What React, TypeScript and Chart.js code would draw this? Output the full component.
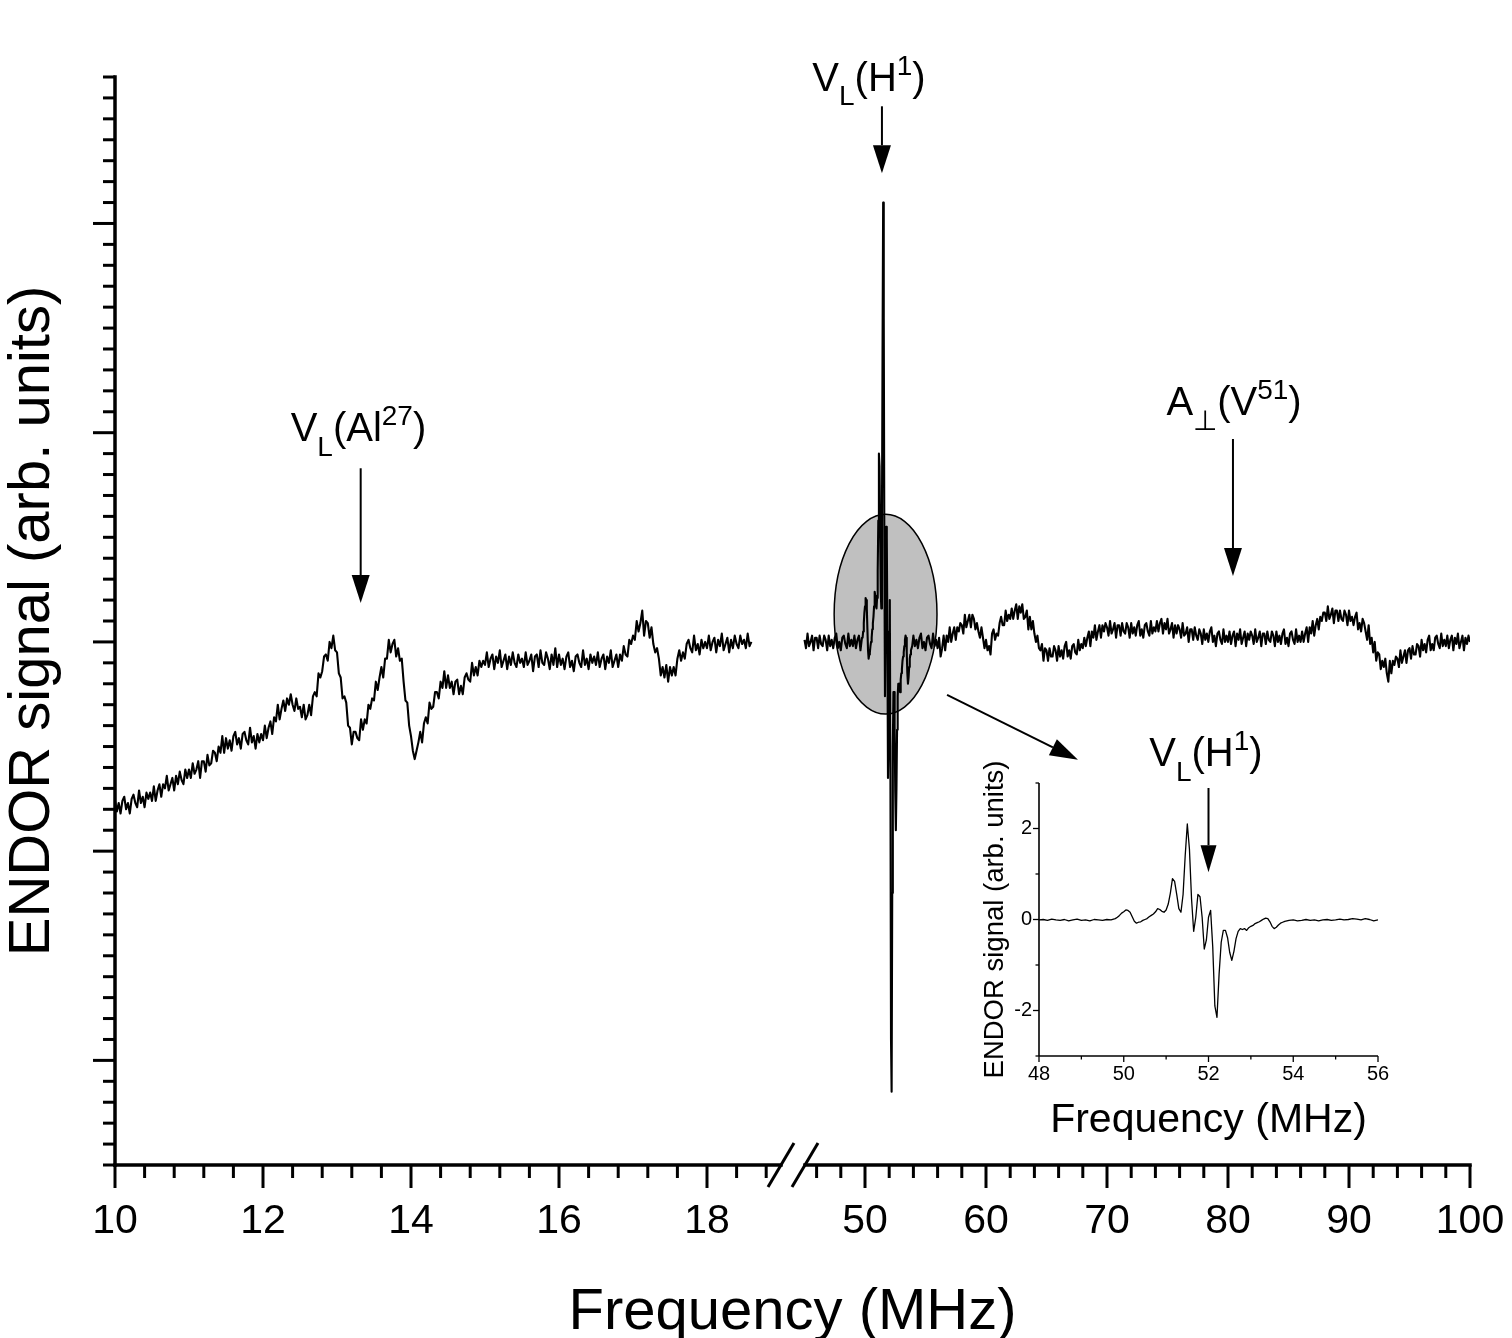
import React, { useEffect, useRef } from "react";
import { Chart, registerables } from "chart.js";

Chart.register(...registerables);

const FONT = "'Liberation Sans', Arial, Helvetica, sans-serif";

// ---------------- DATA ----------------
// Main spectrum, left segment: 10.000 – 18.600 MHz, sampled every 0.025 MHz
const leftStartMHz = 10;
const leftStepMHz = 0.025;
const leftSignal = [
  -0.76, -0.81, -0.77, -0.82, -0.76, -0.74, -0.80, -0.77, -0.82, -0.75, -0.73, -0.77, -0.79, -0.71, -0.77, -0.74, -0.79, -0.72, -0.75, -0.72,
  -0.76, -0.69, -0.76, -0.71, -0.68, -0.74, -0.68, -0.70, -0.64, -0.71, -0.68, -0.65, -0.71, -0.64, -0.68, -0.62, -0.66, -0.68, -0.61, -0.65,
  -0.61, -0.65, -0.58, -0.63, -0.61, -0.57, -0.65, -0.57, -0.57, -0.62, -0.54, -0.59, -0.58, -0.52, -0.53, -0.57, -0.50, -0.53, -0.45, -0.53,
  -0.46, -0.51, -0.47, -0.52, -0.45, -0.43, -0.49, -0.46, -0.51, -0.44, -0.43, -0.47, -0.49, -0.41, -0.48, -0.45, -0.51, -0.44, -0.48, -0.44,
  -0.47, -0.40, -0.46, -0.41, -0.38, -0.44, -0.36, -0.38, -0.30, -0.37, -0.32, -0.28, -0.33, -0.27, -0.30, -0.25, -0.30, -0.33, -0.27, -0.32,
  -0.31, -0.36, -0.30, -0.37, -0.35, -0.30, -0.35, -0.26, -0.24, -0.26, -0.15, -0.17, -0.14, -0.07, -0.06, -0.09, 0.00, -0.03, 0.03, -0.04,
  -0.05, -0.15, -0.17, -0.27, -0.26, -0.29, -0.40, -0.41, -0.49, -0.43, -0.43, -0.46, -0.47, -0.37, -0.42, -0.37, -0.39, -0.30, -0.32, -0.27,
  -0.28, -0.19, -0.23, -0.17, -0.12, -0.17, -0.08, -0.08, 0.01, -0.05, -0.01, 0.01, -0.07, -0.03, -0.09, -0.08, -0.19, -0.28, -0.29, -0.40,
  -0.45, -0.52, -0.56, -0.52, -0.48, -0.43, -0.48, -0.39, -0.36, -0.39, -0.29, -0.32, -0.31, -0.24, -0.24, -0.27, -0.19, -0.22, -0.14, -0.22,
  -0.16, -0.22, -0.19, -0.25, -0.19, -0.18, -0.25, -0.21, -0.25, -0.17, -0.15, -0.18, -0.19, -0.10, -0.16, -0.12, -0.16, -0.09, -0.12, -0.09,
  -0.11, -0.05, -0.12, -0.08, -0.06, -0.13, -0.07, -0.10, -0.04, -0.12, -0.09, -0.06, -0.13, -0.07, -0.11, -0.05, -0.10, -0.12, -0.06, -0.10,
  -0.08, -0.12, -0.05, -0.11, -0.09, -0.06, -0.14, -0.07, -0.06, -0.12, -0.04, -0.10, -0.11, -0.05, -0.08, -0.13, -0.06, -0.11, -0.03, -0.12,
  -0.06, -0.11, -0.08, -0.13, -0.07, -0.05, -0.12, -0.09, -0.14, -0.07, -0.06, -0.10, -0.12, -0.04, -0.11, -0.08, -0.13, -0.06, -0.10, -0.07,
  -0.11, -0.05, -0.12, -0.08, -0.06, -0.13, -0.07, -0.10, -0.04, -0.12, -0.09, -0.06, -0.12, -0.06, -0.09, -0.02, -0.06, -0.07, 0.01, -0.01,
  0.03, 0.01, 0.10, 0.05, 0.09, 0.15, 0.03, 0.10, 0.09, 0.02, 0.07, -0.01, -0.05, -0.03, -0.08, -0.16, -0.12, -0.17, -0.11, -0.19,
  -0.12, -0.16, -0.12, -0.16, -0.08, -0.04, -0.09, -0.05, -0.08, -0.01, 0.01, -0.03, -0.05, 0.03, -0.04, -0.01, -0.06, 0.01, -0.03, 0.00,
  -0.03, 0.03, -0.04, 0.00, 0.02, -0.05, 0.01, -0.02, 0.04, -0.04, -0.01, 0.02, -0.05, 0.01, -0.03, 0.03, -0.01, -0.03, 0.03, -0.01,
  0.01, -0.03, 0.04, -0.02, 0.00,
];

// Main spectrum, right segment, part A: 45.000 – 49.750 MHz every 0.125 MHz
const rightAStartMHz = 45;
const rightStepMHz = 0.125;
const rightASignal = [
  0.01, -0.03, 0.04, -0.02, 0.00, 0.03, -0.04, 0.02, 0.02, -0.03, 0.03, -0.01, -0.02, 0.03, 0.01, -0.04,
  0.03, -0.02, 0.01, -0.03, 0.02, 0.04, -0.03, 0.00, -0.04, 0.02, 0.03, -0.01, -0.03, 0.04, -0.02, 0.01,
  -0.02, 0.03, -0.03, 0.01, 0.03, -0.04, 0.02,
];

// Main spectrum, right segment, part B: 54.000 – 100.000 MHz every 0.125 MHz
const rightBStartMHz = 54;
const rightBSignal = [
  0.03, -0.02, 0.01, -0.03, 0.02, 0.04, -0.03, 0.00, -0.04, 0.02, 0.03, -0.01, -0.03, 0.04, -0.02, 0.01,
  -0.03, 0.02, -0.07, -0.03, 0.03, -0.04, 0.03, 0.00, 0.07, 0.00, 0.04, 0.07, 0.01, 0.07, 0.05, 0.09,
  0.08, 0.04, 0.13, 0.07, 0.10, 0.13, 0.07, 0.13, 0.11, 0.06, 0.09, 0.05, 0.02, 0.07, 0.02, -0.03,
  0.01, -0.04, -0.02, -0.06, 0.04, 0.06, 0.01, 0.04, 0.03, 0.09, 0.12, 0.08, 0.08, 0.15, 0.10, 0.13,
  0.11, 0.16, 0.11, 0.15, 0.18, 0.11, 0.17, 0.14, 0.18, 0.11, 0.12, 0.15, 0.06, 0.12, 0.06, 0.10,
  0.04, 0.00, 0.03, -0.03, -0.04, -0.01, -0.09, -0.03, -0.04, -0.09, -0.03, -0.07, -0.07, -0.02, -0.04, -0.09,
  -0.02, -0.07, -0.04, -0.08, -0.02, 0.00, -0.07, -0.04, -0.08, -0.02, -0.01, -0.05, -0.06, 0.01, -0.04, -0.01,
  -0.03, 0.02, -0.02, 0.02, 0.05, -0.02, 0.05, 0.02, 0.08, 0.01, 0.05, 0.08, 0.02, 0.08, 0.05, 0.09,
  0.07, 0.03, 0.10, 0.04, 0.06, 0.09, 0.02, 0.08, 0.08, 0.03, 0.09, 0.05, 0.04, 0.09, 0.07, 0.02,
  0.09, 0.04, 0.07, 0.03, 0.08, 0.10, 0.03, 0.06, 0.02, 0.08, 0.09, 0.05, 0.03, 0.10, 0.04, 0.07,
  0.05, 0.10, 0.05, 0.09, 0.11, 0.04, 0.09, 0.06, 0.11, 0.04, 0.06, 0.09, 0.02, 0.08, 0.04, 0.08,
  0.06, 0.02, 0.09, 0.03, 0.04, 0.07, 0.00, 0.06, 0.06, 0.01, 0.07, 0.03, 0.01, 0.06, 0.04, -0.01,
  0.06, 0.01, 0.04, 0.00, 0.05, 0.07, 0.00, 0.03, -0.02, 0.04, 0.05, 0.01, -0.01, 0.06, 0.00, 0.03,
  0.00, 0.05, -0.01, 0.03, 0.05, -0.02, 0.04, 0.01, 0.06, -0.01, 0.02, 0.05, -0.02, 0.04, 0.01, 0.05,
  0.03, -0.01, 0.06, 0.00, 0.02, 0.05, -0.02, 0.04, 0.04, -0.01, 0.05, 0.01, 0.00, 0.05, 0.03, -0.02,
  0.05, 0.00, 0.03, -0.01, 0.04, 0.06, -0.01, 0.02, -0.02, 0.04, 0.05, 0.01, -0.01, 0.06, 0.00, 0.03,
  0.00, 0.05, 0.00, 0.04, 0.07, 0.00, 0.07, 0.04, 0.10, 0.03, 0.08, 0.11, 0.06, 0.12, 0.10, 0.14,
  0.14, 0.10, 0.17, 0.11, 0.13, 0.16, 0.09, 0.15, 0.15, 0.10, 0.15, 0.11, 0.10, 0.15, 0.13, 0.08,
  0.15, 0.10, 0.12, 0.08, 0.12, 0.14, 0.06, 0.09, 0.05, 0.11, 0.09, 0.05, 0.01, 0.08, -0.01, 0.02,
  -0.05, 0.00, -0.09, -0.05, -0.06, -0.13, -0.09, -0.12, -0.08, -0.15, -0.19, -0.09, -0.15, -0.09, -0.11, -0.07,
  -0.08, -0.12, -0.04, -0.10, -0.07, -0.04, -0.10, -0.04, -0.03, -0.08, -0.02, -0.06, -0.06, -0.01, -0.02, -0.07,
  0.01, -0.04, -0.01, -0.05, 0.01, 0.03, -0.04, -0.01, -0.04, 0.02, 0.03, -0.01, -0.03, 0.04, -0.02, 0.01,
  -0.02, 0.03, -0.03, 0.01, 0.03, -0.04, 0.02, -0.01, 0.04, -0.03, 0.00, 0.03, -0.04, 0.02, -0.01, 0.03,
  0.00,
];

// V_L(H1) region (48 – 56 MHz): shown in the inset and inside the main trace
const h1Freq = [
  48.0, 48.1, 48.2, 48.3, 48.4, 48.5, 48.6, 48.7, 48.8, 48.9,
  49.0, 49.1, 49.2, 49.3, 49.4, 49.5, 49.6, 49.7, 49.8, 49.85,
  49.9, 49.95, 50.0, 50.05, 50.1, 50.15, 50.2, 50.25, 50.3, 50.35,
  50.4, 50.45, 50.5, 50.55, 50.6, 50.65, 50.7, 50.75, 50.8, 50.85,
  50.9, 50.95, 51.0, 51.05, 51.1, 51.15, 51.2, 51.25, 51.3, 51.35,
  51.4, 51.45, 51.5, 51.55, 51.6, 51.65, 51.7, 51.75, 51.8, 51.85,
  51.9, 51.95, 52.0, 52.05, 52.1, 52.15, 52.2, 52.25, 52.3, 52.35,
  52.4, 52.45, 52.5, 52.55, 52.6, 52.65, 52.7, 52.75, 52.8, 52.85,
  52.9, 52.95, 53.0, 53.05, 53.1, 53.15, 53.2, 53.25, 53.3, 53.35,
  53.4, 53.45, 53.5, 53.55, 53.6, 53.65, 53.7, 53.75, 53.8, 53.9,
  54.0, 54.1, 54.2, 54.3, 54.4, 54.5, 54.6, 54.7, 54.8, 54.9,
  55.0, 55.1, 55.2, 55.3, 55.4, 55.5, 55.6, 55.7, 55.8, 55.9,
  56.0,
];
const h1Signal = [
  -0.01, 0.00, -0.02, 0.01, -0.01, -0.02, 0.00, -0.03, -0.01, 0.01,
  -0.02, -0.01, -0.03, 0.00, -0.01, -0.02, 0.00, -0.01, 0.02, 0.05,
  0.09, 0.14, 0.17, 0.21, 0.20, 0.16, 0.06, -0.04, -0.08, -0.06,
  -0.05, -0.02, 0.00, 0.02, 0.06, 0.09, 0.12, 0.17, 0.24, 0.22,
  0.18, 0.16, 0.21, 0.34, 0.58, 0.90, 0.84, 0.55, 0.24, 0.16,
  0.55, 1.40, 2.10, 1.55, 0.45, -0.26, 0.05, 0.55, 0.50, 0.05,
  -0.65, -0.45, 0.05, 0.20, -0.60, -1.90, -2.15, -1.20, -0.50, -0.24,
  -0.24, -0.40, -0.72, -0.90, -0.70, -0.42, -0.26, -0.20, -0.22, -0.20,
  -0.24, -0.18, -0.15, -0.13, -0.09, -0.07, -0.05, -0.02, 0.01, 0.03,
  0.02, -0.05, -0.15, -0.20, -0.17, -0.12, -0.08, -0.06, -0.04, -0.02,
  -0.01, -0.03, -0.02, 0.00, -0.02, -0.01, -0.03, -0.01, 0.00, -0.02,
  -0.01, 0.01, -0.01, 0.00, 0.02, 0.01, -0.01, 0.02, 0.00, -0.03,
  -0.01,
];

// Axis tick labels
const leftTickLabels = [10, 12, 14, 16, 18];
const rightTickLabels = [50, 60, 70, 80, 90, 100];
const insetXTickLabels = [48, 50, 52, 54, 56];
const insetYTickLabels = [-2, 0, 2];

// ---------------- BROKEN AXIS MAPPING ----------------
const LEFT_PER_MHZ = 74;
const RIGHT_ORIGIN = 750;
const RIGHT_PER_MHZ = 12.1;
const toV = (f: number) =>
  f < 30 ? (f - 10) * LEFT_PER_MHZ : RIGHT_ORIGIN + (f - 50) * RIGHT_PER_MHZ;
const fromV = (v: number) =>
  v < 678 ? 10 + v / LEFT_PER_MHZ : 50 + (v - RIGHT_ORIGIN) / RIGHT_PER_MHZ;

type Part = [string, "n" | "sub" | "sup"];

function richText(ctx: CanvasRenderingContext2D, parts: Part[], cx: number, base: number, size: number) {
  const fontFor = (k: string) => `${k === "n" ? size : Math.round(size * 0.7)}px ${FONT}`;
  let w = 0;
  for (const [t, k] of parts) {
    ctx.font = fontFor(k);
    w += ctx.measureText(t).width;
  }
  let x = cx - w / 2;
  ctx.save();
  ctx.textAlign = "left";
  ctx.textBaseline = "alphabetic";
  ctx.fillStyle = "#000";
  for (const [t, k] of parts) {
    ctx.font = fontFor(k);
    const dy = k === "sub" ? size * 0.37 : k === "sup" ? -size * 0.4 : 0;
    ctx.fillText(t, x, base + dy);
    x += ctx.measureText(t).width;
  }
  ctx.restore();
}

function arrow(ctx: CanvasRenderingContext2D, x1: number, y1: number, x2: number, y2: number, headLen: number, headHalf: number, lw: number) {
  const a = Math.atan2(y2 - y1, x2 - x1);
  const bx = x2 - headLen * Math.cos(a);
  const by = y2 - headLen * Math.sin(a);
  ctx.save();
  ctx.strokeStyle = "#000";
  ctx.fillStyle = "#000";
  ctx.lineWidth = lw;
  ctx.beginPath();
  ctx.moveTo(x1, y1);
  ctx.lineTo(bx, by);
  ctx.stroke();
  ctx.beginPath();
  ctx.moveTo(x2, y2);
  ctx.lineTo(bx + headHalf * Math.sin(a), by - headHalf * Math.cos(a));
  ctx.lineTo(bx - headHalf * Math.sin(a), by + headHalf * Math.cos(a));
  ctx.closePath();
  ctx.fill();
  ctx.restore();
}

function line(ctx: CanvasRenderingContext2D, x1: number, y1: number, x2: number, y2: number) {
  ctx.beginPath();
  ctx.moveTo(x1, y1);
  ctx.lineTo(x2, y2);
  ctx.stroke();
}

const mainDecor = {
  id: "mainDecor",
  beforeDatasetsDraw(chart: any) {
    const { ctx } = chart;
    const xs = chart.scales.x;
    const ys = chart.scales.y;
    const x1 = xs.getPixelForValue(toV(47.45));
    const x2 = xs.getPixelForValue(toV(55.95));
    const y1 = ys.getPixelForValue(0.61);
    const y2 = ys.getPixelForValue(-0.345);
    ctx.save();
    ctx.beginPath();
    ctx.ellipse((x1 + x2) / 2, (y1 + y2) / 2, (x2 - x1) / 2, (y2 - y1) / 2, 0, 0, Math.PI * 2);
    ctx.fillStyle = "#c0c0c0";
    ctx.fill();
    ctx.lineWidth = 1.5;
    ctx.strokeStyle = "#000";
    ctx.stroke();
    ctx.restore();
  },
  afterDraw(chart: any) {
    const { ctx, chartArea } = chart;
    const xs = chart.scales.x;
    const ys = chart.scales.y;
    const { left, right, top, bottom } = chartArea;
    ctx.save();
    ctx.strokeStyle = "#000";
    ctx.lineCap = "butt";
    ctx.lineWidth = 3;
    for (let k = -25; k <= 27; k++) {
      const y = ys.getPixelForValue(k / 10);
      const len = k % 10 === 0 ? 22 : 12;
      line(ctx, left - len, y, left, y);
    }
    for (let k = 0; k <= 22; k++) {
      const x = xs.getPixelForValue(toV(10 + 0.4 * k));
      const len = k % 5 === 0 ? 23 : 13;
      line(ctx, x, bottom, x, bottom + len);
    }
    for (let f = 46; f <= 100; f += 2) {
      const x = xs.getPixelForValue(toV(f));
      const len = f % 10 === 0 ? 23 : 13;
      line(ctx, x, bottom, x, bottom + len);
    }
    ctx.lineWidth = 3.5;
    ctx.lineCap = "square";
    line(ctx, left, top, left, bottom);
    const b1 = xs.getPixelForValue(toV(19.0));
    const b2 = xs.getPixelForValue(toV(45.04));
    line(ctx, left, bottom, b1, bottom);
    line(ctx, b2, bottom, right, bottom);
    ctx.lineCap = "butt";
    ctx.lineWidth = 3;
    line(ctx, b1 - 13, bottom + 22, b1 + 13, bottom - 22);
    line(ctx, b2 - 13, bottom + 22, b2 + 13, bottom - 22);
    ctx.restore();

    const P = (f: number, v: number) => [xs.getPixelForValue(toV(f)), ys.getPixelForValue(v)];
    let a = P(13.32, 0.83), b = P(13.32, 0.186);
    arrow(ctx, a[0], a[1], b[0], b[1], 28, 9, 2);
    a = P(51.4, 2.56); b = P(51.4, 2.24);
    arrow(ctx, a[0], a[1], b[0], b[1], 28, 9, 2);
    a = P(80.41, 0.97); b = P(80.41, 0.315);
    arrow(ctx, a[0], a[1], b[0], b[1], 28, 9, 2);
    a = P(56.78, -0.253); b = P(67.6, -0.563);
    arrow(ctx, a[0], a[1], b[0], b[1], 28, 9, 2);

    let p = P(13.29, 0.96);
    richText(ctx, [["V", "n"], ["L", "sub"], ["(Al", "n"], ["27", "sup"], [")", "n"]], p[0], p[1], 40);
    p = P(50.33, 2.635);
    richText(ctx, [["V", "n"], ["L", "sub"], ["(H", "n"], ["1", "sup"], [")", "n"]], p[0], p[1], 40);
    p = P(80.5, 1.083);
    richText(ctx, [["A", "n"], ["\u22A5", "sub"], ["(V", "n"], ["51", "sup"], [")", "n"]], p[0], p[1], 40);
  },
};

const insetDecor = {
  id: "insetDecor",
  afterDraw(chart: any) {
    const { ctx, chartArea } = chart;
    const xs = chart.scales.x;
    const ys = chart.scales.y;
    const { left, right, top, bottom } = chartArea;
    ctx.save();
    ctx.strokeStyle = "#000";
    ctx.lineWidth = 1.3;
    for (let v = -3; v <= 3; v++) {
      const y = ys.getPixelForValue(v);
      const len = v % 2 === 0 ? 6 : 3.5;
      line(ctx, left - len, y, left, y);
    }
    for (let f = 48; f <= 56; f++) {
      const x = xs.getPixelForValue(f);
      const len = f % 2 === 0 ? 6 : 3.5;
      line(ctx, x, bottom, x, bottom + len);
    }
    ctx.lineWidth = 1.6;
    line(ctx, left, top, left, bottom);
    line(ctx, left, bottom, right, bottom);
    ctx.restore();
    const a = [xs.getPixelForValue(52.0), ys.getPixelForValue(2.89)];
    const b = [xs.getPixelForValue(52.0), ys.getPixelForValue(1.04)];
    arrow(ctx, a[0], a[1], b[0], b[1], 27, 8, 2);
    richText(
      ctx,
      [["V", "n"], ["L", "sub"], ["(H", "n"], ["1", "sup"], [")", "n"]],
      xs.getPixelForValue(51.94),
      ys.getPixelForValue(3.38),
      40
    );
  },
};

export default function App() {
  const mainRef = useRef<HTMLCanvasElement>(null);
  const insetRef = useRef<HTMLCanvasElement>(null);

  useEffect(() => {
    const leftPoints = leftSignal.map((y, i) => ({ x: toV(leftStartMHz + i * leftStepMHz), y }));
    const rightPoints = [
      ...rightASignal.map((y, i) => ({ x: toV(rightAStartMHz + i * rightStepMHz), y })),
      ...h1Freq
        .map((f, i) => ({ f, y: h1Signal[i] }))
        .filter((p) => p.f > 49.76 && p.f < 53.99)
        .map((p) => ({ x: toV(p.f), y: p.y })),
      ...rightBSignal.map((y, i) => ({ x: toV(rightBStartMHz + i * rightStepMHz), y })),
    ];
    const tickVs = [...leftTickLabels, ...rightTickLabels].map(toV);

    const lineStyle = {
      borderColor: "#000",
      borderWidth: 2.1,
      pointRadius: 0,
      tension: 0,
      fill: false,
      borderJoinStyle: "round" as const,
    };

    const main = new Chart(mainRef.current!, {
      type: "line",
      data: {
        datasets: [
          { label: "left", data: leftPoints, ...lineStyle },
          { label: "right", data: rightPoints, ...lineStyle },
        ],
      },
      options: {
        responsive: false,
        animation: false,
        devicePixelRatio: 1,
        layout: { padding: { left: 0, right: 42, top: 77, bottom: 0 } },
        plugins: { legend: { display: false }, tooltip: { enabled: false } },
        scales: {
          x: {
            type: "linear",
            min: 0,
            max: 1355,
            afterFit: (s: any) => {
              s.height = 173;
              s.paddingLeft = 0;
              s.paddingRight = 0;
            },
            afterBuildTicks: (s: any) => {
              s.ticks = tickVs.map((v) => ({ value: v }));
            },
            ticks: {
              callback: (v: any) => String(Math.round(fromV(Number(v)))),
              font: { family: FONT, size: 41 },
              color: "#000",
              padding: 32,
              autoSkip: false,
              maxRotation: 0,
              minRotation: 0,
            },
            grid: { display: false, drawTicks: false },
            border: { display: false },
            title: {
              display: true,
              text: "Frequency (MHz)",
              color: "#000",
              font: { family: FONT, size: 58, lineHeight: 1 },
              padding: { top: 0, bottom: -4 },
            },
          },
          y: {
            type: "linear",
            min: -2.5,
            max: 2.7,
            afterFit: (s: any) => {
              s.width = 115;
              s.paddingTop = 0;
              s.paddingBottom = 0;
            },
            ticks: { display: false },
            grid: { display: false, drawTicks: false },
            border: { display: false },
            title: {
              display: true,
              text: "ENDOR signal (arb. units)",
              color: "#000",
              font: { family: FONT, size: 58, lineHeight: 1 },
              padding: { top: 4, bottom: 0 },
            },
          },
        },
      },
      plugins: [mainDecor],
    } as any);

    const inset = new Chart(insetRef.current!, {
      type: "line",
      data: {
        datasets: [
          {
            label: "inset",
            data: h1Freq.map((f, i) => ({ x: f, y: h1Signal[i] })),
            borderColor: "#000",
            borderWidth: 1.3,
            pointRadius: 0,
            tension: 0,
            fill: false,
            borderJoinStyle: "round",
          },
        ],
      },
      options: {
        responsive: false,
        animation: false,
        devicePixelRatio: 1,
        layout: { padding: { left: 0, right: 32, top: 83, bottom: 0 } },
        plugins: { legend: { display: false }, tooltip: { enabled: false } },
        scales: {
          x: {
            type: "linear",
            min: 48,
            max: 56,
            afterFit: (s: any) => {
              s.height = 104;
              s.paddingLeft = 0;
              s.paddingRight = 0;
            },
            afterBuildTicks: (s: any) => {
              s.ticks = insetXTickLabels.map((v) => ({ value: v }));
            },
            ticks: {
              font: { family: FONT, size: 20 },
              color: "#000",
              padding: 6,
              autoSkip: false,
              maxRotation: 0,
              minRotation: 0,
            },
            grid: { display: false, drawTicks: false },
            border: { display: false },
            title: {
              display: true,
              text: "Frequency (MHz)",
              color: "#000",
              font: { family: FONT, size: 41, lineHeight: 1 },
              padding: { top: 0, bottom: 19 },
            },
          },
          y: {
            type: "linear",
            min: -3,
            max: 3,
            afterFit: (s: any) => {
              s.width = 79;
              s.paddingTop = 0;
              s.paddingBottom = 0;
            },
            afterBuildTicks: (s: any) => {
              s.ticks = insetYTickLabels.map((v) => ({ value: v }));
            },
            ticks: {
              font: { family: FONT, size: 20 },
              color: "#000",
              padding: 7,
            },
            grid: { display: false, drawTicks: false },
            border: { display: false },
            title: {
              display: true,
              text: "ENDOR signal (arb. units)",
              color: "#000",
              font: { family: FONT, size: 27.5, lineHeight: 1 },
              padding: { top: 22, bottom: 0 },
            },
          },
        },
      },
      plugins: [insetDecor],
    } as any);

    return () => {
      main.destroy();
      inset.destroy();
    };
  }, []);

  return (
    <div style={{ position: "absolute", left: 0, top: 0, width: 1512, height: 1338, background: "#fff" }}>
      <canvas ref={mainRef} width={1512} height={1338} style={{ position: "absolute", left: 0, top: 0 }} />
      <canvas ref={insetRef} width={450} height={460} style={{ position: "absolute", left: 960, top: 700 }} />
    </div>
  );
}
